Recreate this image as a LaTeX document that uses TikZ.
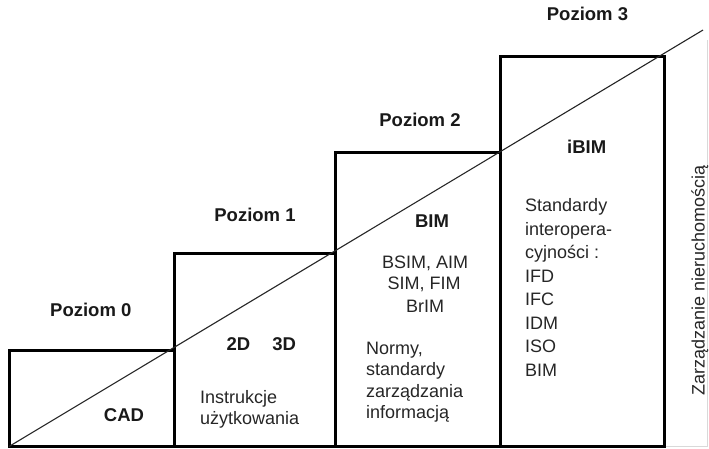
\documentclass[tikz,border=0pt]{standalone}
\usepackage{fontspec}
\setmainfont{Liberation Sans}
\begin{document}
\begin{tikzpicture}[x=1pt,y=-1pt,
  box/.style={draw=black,line width=3pt,inner sep=0pt,outer sep=0pt,anchor=north west,minimum width=165pt},
  diag/.style={draw=black!85,line width=1.1pt},
  lvl/.style={font=\fontsize{18.5}{22}\selectfont\bfseries,anchor=base,inner sep=0pt,text=black!90},
  txt/.style={font=\fontsize{18}{21.5}\selectfont,anchor=base west,inner sep=0pt,text=black!85},
  ctxt/.style={font=\fontsize{18}{21.5}\selectfont,anchor=base,inner sep=0pt,text=black!85},
  faint/.style={draw=black!15,line width=1pt}]
\useasboundingbox (0,0) rectangle (709,448);
% boxes
\node[box,minimum width=165pt,minimum height=96pt] (b0) at (9,350.5) {};
\node[box,minimum width=161.5pt,minimum height=193.5pt] (b1) at (174,253) {};
\node[box,minimum width=164.5pt,minimum height=294.5pt] (b2) at (335.5,152) {};
\node[box,minimum width=164pt,minimum height=390.5pt] (b3) at (500,56) {};
% faint frame at the right
\coordinate (fr0) at (665.5,446.5);
\coordinate (fr1) at (707,446.5);
\coordinate (fr2) at (707,40);
\draw[faint] (fr0) -- (fr1) -- (fr2);
% diagonal
\coordinate (ds) at (9,446.5);
\coordinate (de) at (703,30);
\draw[diag] (ds) -- (de);
% level labels
\node[lvl] (p0) at (90.8,316.7) {Poziom 0};
\node[lvl] (p1) at (255,221.7) {Poziom 1};
\node[lvl] (p2) at (420,126.7) {Poziom 2};
\node[lvl] (p3) at (587.5,20) {Poziom 3};
% box 0
\node[lvl] (cad) at (124,421.5) {CAD};
% box 1
\node[lvl] (d2) at (238.4,350) {2D};
\node[lvl] (d3) at (284.2,350) {3D};
\node[txt] (i1) at (200,403.5) {Instrukcje};
\node[txt] (i2) at (200,424.5) {użytkowania};
% box 2
\node[lvl] (bim) at (432,227.5) {BIM};
\node[ctxt] (m1) at (425,268.3) {BSIM, AIM};
\node[ctxt] (m2) at (424,289) {SIM, FIM};
\node[ctxt] (m3) at (425,312.5) {BrIM};
\node[txt] (n1) at (366,354) {Normy,};
\node[txt] (n2) at (366,375.5) {standardy};
\node[txt] (n3) at (366,397) {zarządzania};
\node[txt] (n4) at (366,418.5) {informacją};
% box 3
\node[lvl] (ibim) at (586.7,153.5) {iBIM};
\node[txt] (s1) at (525,211.5) {Standardy};
\node[txt] (s2) at (525,235) {interopera-};
\node[txt] (s3) at (525,258.5) {cyjności :};
\node[txt] (s4) at (525,282) {IFD};
\node[txt] (s5) at (525,305.5) {IFC};
\node[txt] (s6) at (525,329) {IDM};
\node[txt] (s7) at (525,352.5) {ISO};
\node[txt] (s8) at (525,376) {BIM};
% rotated label
\node[ctxt,rotate=90] (zn) at (704.5,280) {Zarządzanie nieruchomością};
\end{tikzpicture}
\end{document}
